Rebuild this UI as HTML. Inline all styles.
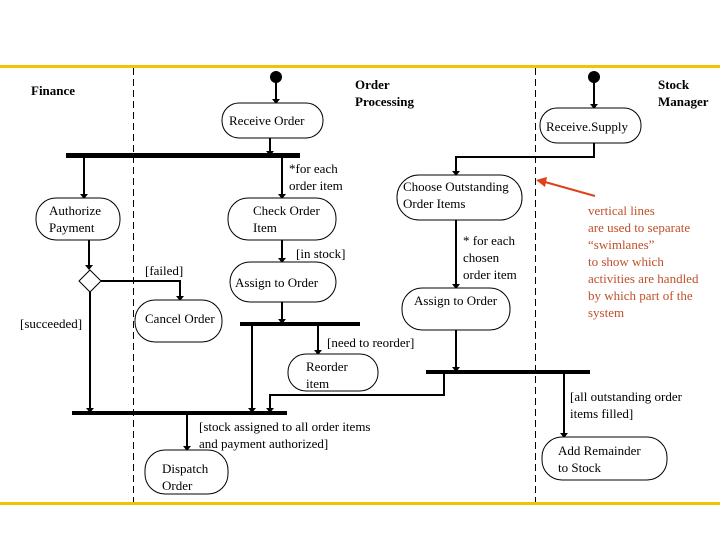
<!DOCTYPE html>
<html><head><meta charset="utf-8"><style>
html,body{margin:0;padding:0;background:#fff;}
svg{display:block;}
text{font-family:"Liberation Serif",serif;font-size:13px;fill:#000;}
.b{font-weight:bold;}
.r{fill:#c0502a;}
</style></head><body>
<svg width="720" height="540" viewBox="0 0 720 540" xmlns="http://www.w3.org/2000/svg">
<rect x="0" y="65" width="720" height="3" fill="#f2c300"/>
<rect x="0" y="502" width="720" height="3" fill="#f2c300"/>
<g stroke="#000" stroke-width="1" stroke-dasharray="7,4">
<line x1="133.5" y1="68" x2="133.5" y2="502"/>
<line x1="535.5" y1="68" x2="535.5" y2="502"/>
</g>
<text x="31" y="95" class="b">Finance</text>
<text x="355" y="89" class="b">Order</text>
<text x="355" y="106" class="b">Processing</text>
<text x="658" y="89" class="b">Stock</text>
<text x="658" y="106" class="b">Manager</text>

<g fill="none" stroke="#000" stroke-width="2">
<path d="M276,80 V101"/>
<path d="M270,137 V153"/>
<path d="M84,157 V196"/>
<path d="M282,157 V196"/>
<path d="M89,240 V268"/>
<path d="M101,281 H180 V298"/>
<path d="M90,292 V411"/>
<path d="M282,240 V260"/>
<path d="M282,302 V322"/>
<path d="M252,326 V411"/>
<path d="M318,326 V352"/>
<path d="M187,415 V448"/>
<path d="M594,80 V106"/>
<path d="M594,143 V157 H456 V173"/>
<path d="M456,220 V286"/>
<path d="M456,330 V370"/>
<path d="M444,374 V395 H270 V411"/>
<path d="M564,374 V435"/>
</g>
<g fill="#000">
<path d="M272,99 L280,99 L276,104z"/>
<path d="M266,151 L274,151 L270,156z"/>
<path d="M80,194 L88,194 L84,199z"/>
<path d="M278,194 L286,194 L282,199z"/>
<path d="M85,265 L93,265 L89,270z"/>
<path d="M176,296 L184,296 L180,301z"/>
<path d="M86,408 L94,408 L90,413z"/>
<path d="M278,258 L286,258 L282,263z"/>
<path d="M278,319 L286,319 L282,324z"/>
<path d="M248,408 L256,408 L252,413z"/>
<path d="M314,350 L322,350 L318,355z"/>
<path d="M183,446 L191,446 L187,451z"/>
<path d="M590,104 L598,104 L594,109z"/>
<path d="M452,171 L460,171 L456,176z"/>
<path d="M452,284 L460,284 L456,289z"/>
<path d="M452,367 L460,367 L456,372z"/>
<path d="M266,408 L274,408 L270,413z"/>
<path d="M560,433 L568,433 L564,438z"/>
<circle cx="276" cy="77" r="6"/>
<circle cx="594" cy="77" r="6"/>
<rect x="66" y="153" width="234" height="5"/>
<rect x="240" y="322" width="120" height="4"/>
<rect x="72" y="411" width="215" height="4"/>
<rect x="426" y="370" width="164" height="4"/>
</g>
<g fill="#fff" stroke="#000" stroke-width="1">
<rect x="222" y="103" width="101" height="35" rx="17"/>
<rect x="36" y="198" width="84" height="42" rx="20"/>
<rect x="228" y="198" width="108" height="42" rx="20"/>
<rect x="230" y="262" width="106" height="40" rx="20"/>
<rect x="135" y="300" width="87" height="42" rx="20"/>
<rect x="288" y="354" width="90" height="37" rx="18"/>
<rect x="145" y="450" width="83" height="44" rx="20"/>
<rect x="540" y="108" width="101" height="35" rx="17"/>
<rect x="397" y="175" width="125" height="45" rx="22"/>
<rect x="402" y="288" width="108" height="42" rx="20"/>
<rect x="542" y="437" width="125" height="43" rx="20"/>
<path d="M90,270 L101,281 L90,292 L79,281z"/>
</g>
<text x="229" y="125">Receive Order</text>
<text x="49" y="215">Authorize</text>
<text x="49" y="232">Payment</text>
<text x="253" y="215">Check Order</text>
<text x="253" y="232">Item</text>
<text x="235" y="287">Assign to Order</text>
<text x="145" y="323">Cancel Order</text>
<text x="306" y="371">Reorder</text>
<text x="306" y="388">item</text>
<text x="162" y="473">Dispatch</text>
<text x="162" y="490">Order</text>
<text x="546" y="131">Receive.Supply</text>
<text x="403" y="191">Choose Outstanding</text>
<text x="403" y="208">Order Items</text>
<text x="414" y="305">Assign to Order</text>
<text x="558" y="455">Add Remainder</text>
<text x="558" y="472">to Stock</text>

<text x="289" y="173">*for each</text>
<text x="289" y="190">order item</text>
<text x="296" y="258">[in stock]</text>
<text x="145" y="275">[failed]</text>
<text x="20" y="328">[succeeded]</text>
<text x="327" y="347">[need to reorder]</text>
<text x="199" y="431">[stock assigned to all order items</text>
<text x="199" y="448">and payment authorized]</text>
<text x="463" y="245">* for each</text>
<text x="463" y="262">chosen</text>
<text x="463" y="279">order item</text>
<text x="570" y="401">[all outstanding order</text>
<text x="570" y="418">items filled]</text>

<line x1="595" y1="196" x2="545" y2="182" stroke="#e0401a" stroke-width="2"/>
<path d="M536,180 L547,177 L545,187z" fill="#e0401a"/>
<text class="r" x="588" y="215">vertical lines</text>
<text class="r" x="588" y="232">are used to separate</text>
<text class="r" x="588" y="249">“swimlanes”</text>
<text class="r" x="588" y="266">to show which</text>
<text class="r" x="588" y="283">activities are handled</text>
<text class="r" x="588" y="300">by  which part of the</text>
<text class="r" x="588" y="317">system</text>
</svg>
</body></html>
